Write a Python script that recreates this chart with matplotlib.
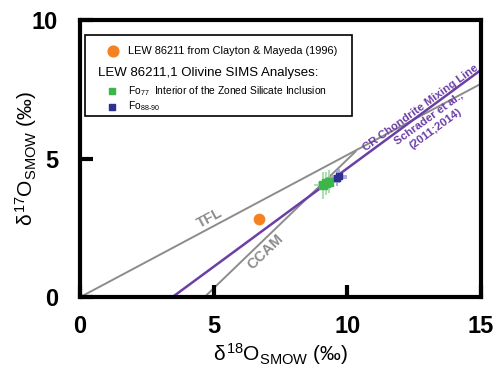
import matplotlib
matplotlib.use("Agg")
import matplotlib.pyplot as plt
import numpy as np

plt.rcParams['font.family'] = ['Liberation Sans', 'DejaVu Sans']
plt.rcParams['mathtext.fontset'] = 'custom'
plt.rcParams['mathtext.rm'] = 'Liberation Sans'
plt.rcParams['mathtext.it'] = 'Liberation Sans'

# reference lines (d18O, d17O end points)
tfl_x = [0, 15]
tfl_y = [0, 7.7]
ccam_x = [4.65, 10.3]
ccam_y = [0, 5.25]
cr_x = [3.45, 15]
cr_y = [0, 8.2]

# LEW 86211 bulk (Clayton & Mayeda 1996)
bulk_x = [6.7]
bulk_y = [2.82]

# SIMS olivine analyses
fo77_x = [9.1, 9.3, 9.2]
fo77_y = [4.03, 4.17, 4.1]
fo77_ex = [0.35, 0.3, 0.3]
fo77_ey = [0.5, 0.4, 0.4]
fo88_x = [9.62, 9.68]
fo88_y = [4.3, 4.38]
fo88_ex = [0.35, 0.3]
fo88_ey = [0.3, 0.25]

gray = '#8c8c8c'
purple = '#6b3fa6'
orange = '#f58220'
green = '#3cb54a'
blue = '#2e3192'

fig = plt.figure(figsize=(4.98, 3.70), dpi=100)
ax = fig.add_axes([0.161, 0.197, 0.805, 0.749])

ax.plot(tfl_x, tfl_y, color=gray, lw=1.4, zorder=1)
ax.plot(ccam_x, ccam_y, color=gray, lw=1.4, zorder=1)
ax.plot(cr_x, cr_y, color=purple, lw=1.8, zorder=2)

ax.errorbar(fo77_x, fo77_y, xerr=fo77_ex, yerr=fo77_ey, fmt='none',
            ecolor='#9ed8a4', elinewidth=1.2, zorder=3)
ax.errorbar(fo88_x, fo88_y, xerr=fo88_ex, yerr=fo88_ey, fmt='none',
            ecolor='#9ea0d8', elinewidth=1.2, zorder=3)
ax.scatter(fo77_x, fo77_y, marker='s', s=30, color=green, zorder=4)
ax.scatter(fo88_x, fo88_y, marker='s', s=22, color=blue, zorder=4)
ax.scatter(bulk_x, bulk_y, marker='o', s=55, color=orange, zorder=4)

ax.set_xlim(0, 15)
ax.set_ylim(0, 10)
ax.set_xticks([0, 5, 10, 15])
ax.set_yticks([0, 5, 10])
ax.tick_params(direction='in', length=9, width=3, labelsize=17, pad=13)
ax.tick_params(axis='y', pad=16)
for lab in ax.get_xticklabels() + ax.get_yticklabels():
    lab.set_fontweight('bold')
for sp in ax.spines.values():
    sp.set_linewidth(3)

ax.set_xlabel(r'$\delta^{18}$O$_{\rm SMOW}$ (‰)', fontsize=15, labelpad=2)
ax.set_ylabel(r'$\delta^{17}$O$_{\rm SMOW}$ (‰)', fontsize=15, labelpad=-5)

# line labels
ax.text(4.87, 2.85, 'TFL', color=gray, fontsize=10.5, fontweight='bold',
        rotation=28, ha='center', va='center', rotation_mode='anchor')
ax.text(6.95, 1.62, 'CCAM', color=gray, fontsize=10.5, fontweight='bold',
        rotation=44, ha='center', va='center', rotation_mode='anchor')
ax.text(13.03, 6.46, 'CR Chondrite Mixing Line\nSchrader et al.,\n(2011;2014)',
        color=purple, fontsize=8.2, fontweight='bold', rotation=36,
        ha='center', va='center', rotation_mode='anchor', linespacing=1.35)

# legend box drawn by hand
box = plt.Rectangle((0.012, 0.655), 0.667, 0.29, transform=ax.transAxes,
                    facecolor='white', edgecolor='black', lw=1.2, zorder=5)
ax.add_patch(box)
ax.scatter([0.082], [0.888], transform=ax.transAxes, marker='o', s=60,
           color=orange, zorder=6)
ax.text(0.12, 0.888, 'LEW 86211 from Clayton & Mayeda (1996)', transform=ax.transAxes,
        fontsize=7.95, va='center', zorder=6)
ax.text(0.045, 0.81, 'LEW 86211,1 Olivine SIMS Analyses:', transform=ax.transAxes,
        fontsize=9.5, va='center', zorder=6)
ax.scatter([0.08], [0.742], transform=ax.transAxes, marker='s', s=14,
           color=green, zorder=6)
ax.text(0.12, 0.745, r'Fo$_{77}$  Interior of the Zoned Silicate Inclusion',
        transform=ax.transAxes, fontsize=7.4, va='center', zorder=6)
ax.scatter([0.08], [0.685], transform=ax.transAxes, marker='s', s=14,
           color=blue, zorder=6)
ax.text(0.12, 0.688, r'Fo$_{88\text{-}90}$', transform=ax.transAxes,
        fontsize=7.4, va='center', zorder=6)

fig.savefig('out.png', dpi=100)
